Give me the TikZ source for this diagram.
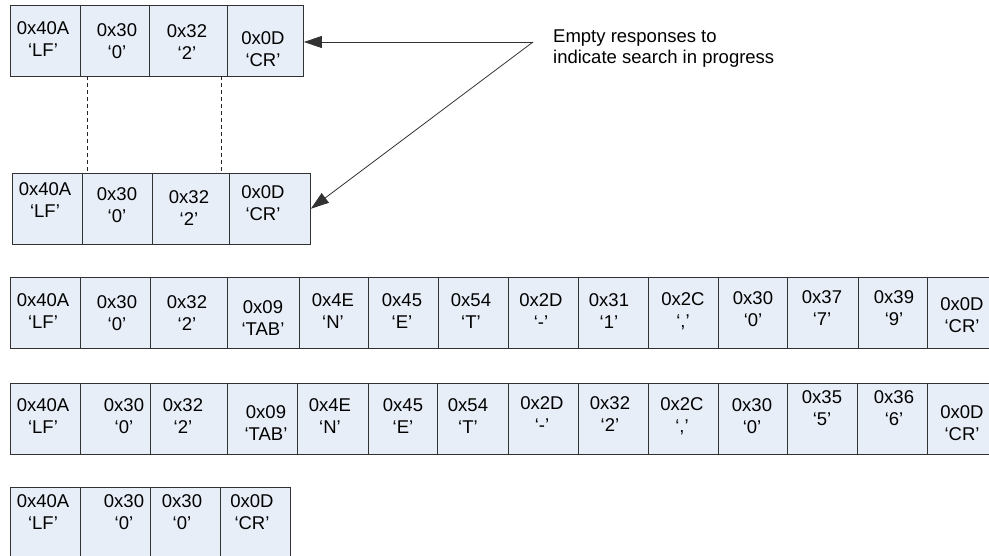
\documentclass[tikz,border=0pt]{standalone}
\usepackage{fontspec}
\setmainfont{Liberation Sans}
\usetikzlibrary{arrows.meta}
\definecolor{cellfill}{RGB}{232,238,247}
\definecolor{lineclr}{RGB}{50,50,50}
\tikzset{
  cellbox/.style={draw=lineclr, line width=0.9pt, fill=cellfill, rectangle, inner sep=0pt, minimum height=70.5pt},
  celltext/.style={inner sep=0pt, align=center, font=\fontsize{18.5}{21.5}\selectfont},
  pointer/.style={draw=lineclr, line width=0.8pt, -{Triangle[length=18pt,width=12pt]}},
  dashline/.style={draw=black!85, line width=0.7pt, dash pattern=on 4pt off 3pt}
}
\newcommand\mycell[8]{%
  \node[cellbox, minimum width={(#3-#2)*1pt}, anchor=north west] (#1) at (#2,#4) {};
  \node[celltext] (#1t) at (#5,#6) {#7\\#8};
}
\begin{document}
\begin{tikzpicture}[x=1pt,y=-1pt]
\useasboundingbox (0,0) rectangle (989,555);
\clip (0,0) rectangle (989,555);
% Row 1
\mycell{ra1}{10}{80}{5}{43}{39}{0x40A}{‘LF’}
\mycell{ra2}{80}{149}{5}{117}{41}{0x30}{‘0’}
\mycell{ra3}{149}{227}{5}{187}{42}{0x32}{‘2’}
\mycell{ra4}{227}{303}{5}{263}{49}{0x0D}{‘CR’}
% Row 2
\mycell{rb1}{12}{82}{173}{45}{200}{0x40A}{‘LF’}
\mycell{rb2}{82}{152}{173}{117}{205}{0x30}{‘0’}
\mycell{rb3}{152}{229}{173}{189}{208}{0x32}{‘2’}
\mycell{rb4}{229}{310}{173}{263}{203}{0x0D}{‘CR’}
% Row 3
\mycell{rc1}{10}{80}{277}{43}{311}{0x40A}{‘LF’}
\mycell{rc2}{80}{150}{277}{117}{313}{0x30}{‘0’}
\mycell{rc3}{150}{227}{277}{187}{313}{0x32}{‘2’}
\mycell{rc4}{227}{299}{277}{263}{318}{0x09}{‘TAB’}
\mycell{rc5}{299}{368}{277}{333}{311}{0x4E}{‘N’}
\mycell{rc6}{368}{438}{277}{402}{311}{0x45}{‘E’}
\mycell{rc7}{438}{508}{277}{471}{311}{0x54}{‘T’}
\mycell{rc8}{508}{578}{277}{541}{311}{0x2D}{‘-’}
\mycell{rc9}{578}{648}{277}{609}{311}{0x31}{‘1’}
\mycell{rc10}{648}{718}{277}{683}{311}{0x2C}{‘,’}
\mycell{rc11}{718}{787}{277}{753}{309}{0x30}{‘0’}
\mycell{rc12}{787}{858}{277}{822}{308}{0x37}{‘7’}
\mycell{rc13}{858}{927}{277}{894}{308}{0x39}{‘9’}
\mycell{rc14}{927}{997}{277}{962}{315}{0x0D}{‘CR’}
% Row 4
\mycell{rd1}{10}{80}{383}{43}{416}{0x40A}{‘LF’}
\mycell{rd2}{80}{150}{383}{124}{416}{0x30}{‘0’}
\mycell{rd3}{150}{227}{383}{183}{416}{0x32}{‘2’}
\mycell{rd4}{227}{297}{383}{266}{423}{0x09}{‘TAB’}
\mycell{rd5}{297}{368}{383}{330}{416}{0x4E}{‘N’}
\mycell{rd6}{368}{437}{383}{403}{416}{0x45}{‘E’}
\mycell{rd7}{437}{508}{383}{468}{416}{0x54}{‘T’}
\mycell{rd8}{508}{578}{383}{542}{414}{0x2D}{‘-’}
\mycell{rd9}{578}{648}{383}{610}{414}{0x32}{‘2’}
\mycell{rd10}{648}{718}{383}{682}{416}{0x2C}{‘,’}
\mycell{rd11}{718}{787}{383}{752}{416}{0x30}{‘0’}
\mycell{rd12}{787}{857}{383}{822}{408}{0x35}{‘5’}
\mycell{rd13}{857}{927}{383}{894}{408}{0x36}{‘6’}
\mycell{rd14}{927}{997}{383}{962}{423}{0x0D}{‘CR’}
% Row 5
\mycell{re1}{10}{80}{487}{43}{512}{0x40A}{‘LF’}
\mycell{re2}{80}{150}{487}{124}{512}{0x30}{‘0’}
\mycell{re3}{150}{220}{487}{182}{512}{0x30}{‘0’}
\mycell{re4}{220}{290}{487}{252}{512}{0x0D}{‘CR’}
% dashed guides
\draw[dashline] ([xshift=7pt]ra2.south west) -- ([xshift=5pt]rb2.north west);
\draw[dashline] ([xshift=-6pt]ra4.south west) -- ([xshift=-8pt]rb4.north west);
% note and pointers
\node[inner sep=0pt, anchor=north west, align=left, font=\fontsize{18.5}{20.5}\selectfont] (note) at (553,30) {Empty responses to\\indicate search in progress};
\coordinate (junc) at (533,42);
\draw[pointer] (junc) -- (junc -| ra4.east);
\draw[pointer] (junc) -- (rb4.east);
\end{tikzpicture}
\end{document}
